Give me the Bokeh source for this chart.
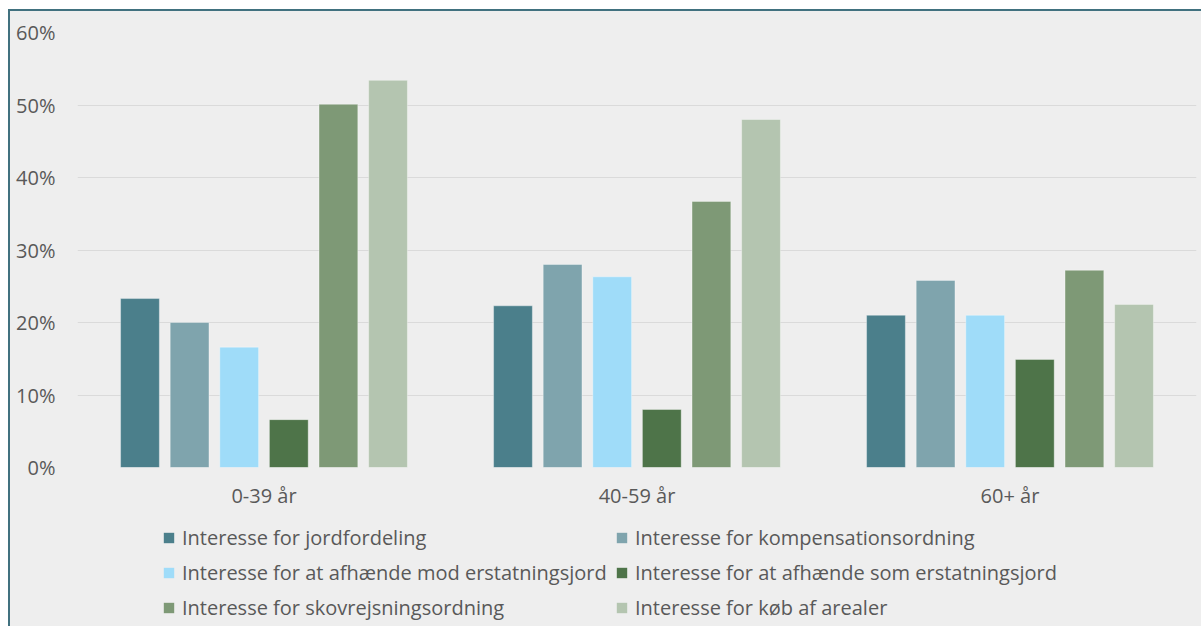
from bokeh.plotting import figure
from bokeh.layouts import column
from bokeh.models import (ColumnDataSource, FactorRange, Range1d, FixedTicker,
                          NumeralTickFormatter, Legend, LegendItem)
from bokeh.transform import dodge
from bokeh.embed import file_html
from bokeh.resources import INLINE

groups = ["0-39 år", "40-59 år", "60+ år"]
series = [
    "Interesse for jordfordeling",
    "Interesse for kompensationsordning",
    "Interesse for at afhænde mod erstatningsjord",
    "Interesse for at afhænde som erstatningsjord",
    "Interesse for skovrejsningsordning",
    "Interesse for køb af arealer",
]
jordfordeling = [0.233, 0.223, 0.210]
kompensation = [0.200, 0.280, 0.258]
afhaende_mod = [0.166, 0.263, 0.210]
afhaende_som = [0.066, 0.080, 0.149]
skovrejsning = [0.501, 0.367, 0.272]
koeb = [0.534, 0.480, 0.225]
colors = ["#4b7f8b", "#7fa4ad", "#9fdcf9", "#4e7449", "#7e9976", "#b4c5b0"]
y_ticks = [0, 0.1, 0.2, 0.3, 0.4, 0.5, 0.6]

values = [jordfordeling, kompensation, afhaende_mod, afhaende_som, skovrejsning, koeb]
keys = ["s%d" % i for i in range(len(series))]
data = {"group": groups}
for k, v in zip(keys, values):
    data[k] = v
source = ColumnDataSource(data)

TEXT = "#595959"
FONT = "Open Sans"
BG = "#eeeeee"
W = 1191
step = 0.133
bw = 0.104

# ---- main chart ----
p = figure(x_range=FactorRange(factors=groups, range_padding=0),
           y_range=Range1d(0, 0.6),
           width=W, height=500, output_backend="svg", toolbar_location=None,
           min_border_left=67, min_border_right=5, min_border_top=21,
           min_border_bottom=44)
p.background_fill_color = BG
p.border_fill_color = BG
p.outline_line_color = None

for i, k in enumerate(keys):
    p.vbar(x=dodge("group", (i - 2.5) * step, range=p.x_range), top=k, width=bw,
           source=source, fill_color=colors[i], line_color="#ffffff",
           line_alpha=0.35, line_width=1)

p.xgrid.grid_line_color = None
p.ygrid.grid_line_color = "#dadada"
p.ygrid.grid_line_width = 1
p.yaxis.ticker = FixedTicker(ticks=y_ticks)
p.yaxis.formatter = NumeralTickFormatter(format="0%")

for ax in (p.xaxis[0], p.yaxis[0]):
    ax.axis_line_color = None
    ax.major_tick_line_color = None
    ax.minor_tick_line_color = None
    ax.major_label_text_font = FONT
    ax.major_label_text_font_size = "20px"
    ax.major_label_text_color = TEXT
p.yaxis.major_label_standoff = 16
p.xaxis.major_label_standoff = 8

# ---- legend strip (same series, bars kept out of its visible y range) ----
lf = figure(x_range=FactorRange(factors=groups, range_padding=0),
            y_range=Range1d(1, 2), width=W, height=115,
            output_backend="svg", toolbar_location=None,
            x_axis_location=None, y_axis_location=None,
            min_border=0, min_border_left=0, min_border_right=0,
            min_border_top=0, min_border_bottom=0)
lf.grid.visible = False
lf.background_fill_color = BG
lf.border_fill_color = BG
lf.outline_line_color = None

legend_renderers = []
for i, k in enumerate(keys):
    legend_renderers.append(
        lf.vbar(x=dodge("group", (i - 2.5) * step, range=lf.x_range), top=k,
                width=bw, source=source, fill_color=colors[i], line_color=None))

def make_legend(idx, x):
    items = [LegendItem(label=series[i], renderers=[legend_renderers[i]]) for i in idx]
    lg = Legend(items=items, location=(x, 5), orientation="vertical",
                label_text_font=FONT, label_text_font_size="20px",
                label_text_color=TEXT, glyph_width=13, glyph_height=13,
                label_standoff=7, label_height=27, spacing=8, padding=0, margin=0,
                background_fill_alpha=0, border_line_alpha=0)
    lf.add_layout(lg, "center")

make_legend([0, 2, 4], 85)
make_legend([1, 3, 5], 538)

layout = column(p, lf, spacing=0)
layout.styles = {"border-top": "2px solid #41717f", "border-left": "2px solid #41717f",
                 "margin-top": "9px", "margin-left": "8px", "background": BG}

open("out.html", "w").write(file_html(layout, INLINE))
